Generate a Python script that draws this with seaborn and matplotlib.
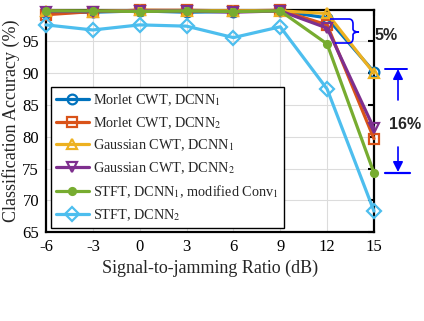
import matplotlib
matplotlib.use("Agg")
import matplotlib.pyplot as plt
import seaborn as sns
import numpy as np
from matplotlib.path import Path
from matplotlib.patches import PathPatch

snr = [-6, -3, 0, 3, 6, 9, 12, 15]
morlet_dcnn1 = [99.5, 99.6, 99.8, 99.6, 99.7, 99.8, 98.7, 90.2]
morlet_dcnn2 = [99.2, 99.7, 99.9, 99.9, 99.8, 99.9, 97.6, 79.7]
gauss_dcnn1 = [99.8, 99.7, 99.9, 99.8, 99.8, 99.8, 99.4, 90.0]
gauss_dcnn2 = [99.7, 99.7, 99.8, 99.8, 99.6, 99.8, 97.1, 81.3]
stft_dcnn1_mod = [99.8, 99.8, 99.7, 99.8, 99.7, 99.8, 94.6, 74.3]
stft_dcnn2 = [97.6, 96.8, 97.6, 97.4, 95.6, 97.3, 87.5, 68.3]

labels = ["Morlet CWT, DCNN$_1$", "Morlet CWT, DCNN$_2$",
          "Gaussian CWT, DCNN$_1$", "Gaussian CWT, DCNN$_2$",
          "STFT, DCNN$_1$, modified Conv$_1$", "STFT, DCNN$_2$"]
series = [morlet_dcnn1, morlet_dcnn2, gauss_dcnn1, gauss_dcnn2, stft_dcnn1_mod, stft_dcnn2]
colors = ["#0072BD", "#D95319", "#EDB120", "#7E2F8E", "#77AC30", "#4DBEEE"]
markers = ["o", "s", "^", "v", "o", "D"]

sns.set_theme(style="white")
plt.rcParams["font.family"] = ["Liberation Serif", "DejaVu Serif"]
plt.rcParams["mathtext.fontset"] = "stix"

fig = plt.figure(figsize=(4.24, 3.21), dpi=100)
ax = fig.add_axes([0.1085, 0.277, 0.882 - 0.1085, 0.970 - 0.277])

for vals, lab, col, mk in zip(series, labels, colors, markers):
    filled = (mk == "o" and col == "#77AC30")
    sns.lineplot(x=snr, y=vals, ax=ax, color=col, marker=mk, label=lab,
                 linewidth=2.3, markersize=5 if filled else 7,
                 markerfacecolor=col if filled else "none",
                 markeredgecolor=col, markeredgewidth=1.6, clip_on=False)

ax.set_xlim(-6, 15)
ax.set_ylim(65, 100)
ax.set_xticks(snr)
ax.set_xticklabels([str(v) for v in snr])
ax.set_yticks([65, 70, 75, 80, 85, 90, 95])
ax.grid(True, color="#dcdcdc", linewidth=0.8)
ax.tick_params(direction="in", length=4, width=1.5, labelsize=12, top=True, right=True,
               colors="black", pad=5)
for s in ax.spines.values():
    s.set_linewidth(1.6)
    s.set_color("black")
    s.set_zorder(1)
ax.set_xlabel("Signal-to-jamming Ratio (dB)", fontsize=13, labelpad=3)
ax.set_ylabel("Classification Accuracy (%)", fontsize=13, labelpad=2)

leg = ax.legend(loc="lower left", bbox_to_anchor=(0.015, 0.02), fontsize=10.3,
                frameon=True, fancybox=False, edgecolor="black", framealpha=1,
                handlelength=2.3, handletextpad=0.3, borderpad=0.35, labelspacing=0.5,
                borderaxespad=0)
leg.get_frame().set_linewidth(1.0)
leg.set_zorder(5)

# brace for 5%
W, H = 424, 321
def fx(px):
    return px / W
def fy(py):
    return 1 - py / H

verts = [(330, 19), (349, 19), (353, 19), (353, 24), (353, 29), (353, 32), (359, 32),
         (353, 32), (353, 35), (353, 38), (353, 43), (349, 43), (335, 43)]
codes = [Path.MOVETO, Path.LINETO, Path.CURVE3, Path.CURVE3, Path.LINETO, Path.CURVE3, Path.CURVE3,
         Path.CURVE3, Path.CURVE3, Path.LINETO, Path.CURVE3, Path.CURVE3, Path.LINETO]
path = Path([(fx(a), fy(b)) for a, b in verts], codes)
fig.patches.append(PathPatch(path, transform=fig.transFigure, fill=False,
                             edgecolor="blue", linewidth=1.2))
fig.text(fx(386), fy(36), "5%", ha="center", va="center", fontsize=11.5,
         fontweight="bold", family="Liberation Sans")

# arrow for 16%
fig.lines.append(plt.Line2D([fx(385), fx(407)], [fy(69), fy(69)], transform=fig.transFigure,
                            color="blue", linewidth=1.4))
fig.lines.append(plt.Line2D([fx(385), fx(410)], [fy(172.5), fy(172.5)], transform=fig.transFigure,
                            color="blue", linewidth=1.6))
fig.patches.append(matplotlib.patches.FancyArrowPatch((fx(398), fy(100)), (fx(398), fy(69)),
                   transform=fig.transFigure, arrowstyle="-|>,head_width=3,head_length=6",
                   color="blue", linewidth=1.2, shrinkA=0, shrinkB=0))
fig.patches.append(matplotlib.patches.FancyArrowPatch((fx(398), fy(147)), (fx(398), fy(172)),
                   transform=fig.transFigure, arrowstyle="-|>,head_width=3,head_length=6",
                   color="blue", linewidth=1.2, shrinkA=0, shrinkB=0))
fig.text(fx(405), fy(125), "16%", ha="center", va="center", fontsize=11.5,
         fontweight="bold", family="Liberation Sans")

fig.savefig("out.png", dpi=100)
